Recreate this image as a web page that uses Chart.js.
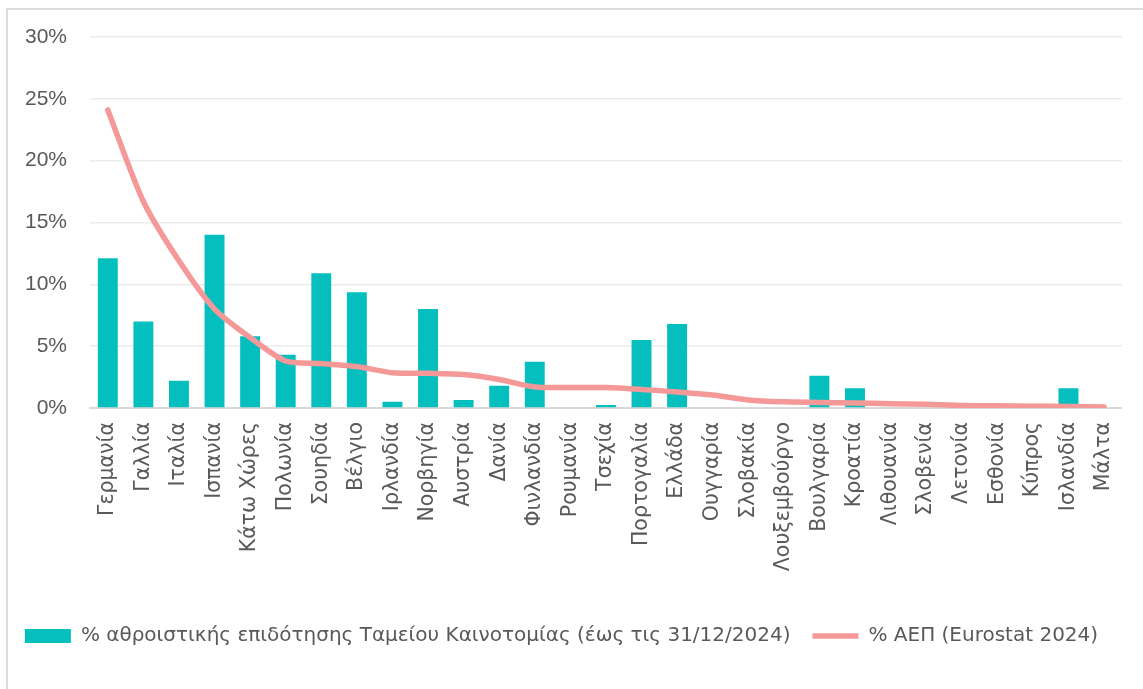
<!DOCTYPE html>
<html>
<head>
<meta charset="utf-8">
<script src="https://cdn.jsdelivr.net/npm/chart.js@4.4.1/dist/chart.umd.min.js"></script>
<style>
  html, body { margin: 0; padding: 0; background: #fff; overflow: hidden; }
  #frame { position: absolute; left: 6px; top: 8px; width: 1160px; height: 700px; border: 2px solid #dcdcdc; pointer-events: none; }
  #myChart { position: absolute; left: 0; top: 0; }
</style>
</head>
<body>
<canvas id="myChart" width="1143" height="689"></canvas>
<div id="frame"></div>
<script>
var countries = ['Γερμανία', 'Γαλλία', 'Ιταλία', 'Ισπανία', 'Κάτω Χώρες', 'Πολωνία', 'Σουηδία', 'Βέλγιο',
    'Ιρλανδία', 'Νορβηγία', 'Αυστρία', 'Δανία', 'Φινλανδία', 'Ρουμανία', 'Τσεχία', 'Πορτογαλία', 'Ελλάδα',
    'Ουγγαρία', 'Σλοβακία', 'Λουξεμβούργο', 'Βουλγαρία', 'Κροατία', 'Λιθουανία', 'Σλοβενία', 'Λετονία',
    'Εσθονία', 'Κύπρος', 'Ισλανδία', 'Μάλτα'];

// % of cumulative funding (bars)
var fundingShare = [12.1, 7.0, 2.2, 14.0, 5.8, 4.3, 10.9, 9.35, 0.5, 8.0, 0.65, 1.8, 3.75, 0, 0.25, 5.5, 6.8,
    0, 0, 0, 2.6, 1.6, 0, 0, 0, 0, 0, 1.6, 0];

// % GDP (line)
var gdpShare = [24.1, 16.7, 11.9, 8.0, 5.7, 3.8, 3.6, 3.35, 2.85, 2.8, 2.7, 2.3, 1.7, 1.65, 1.65, 1.5, 1.3,
    1.05, 0.65, 0.5, 0.45, 0.4, 0.35, 0.3, 0.2, 0.18, 0.15, 0.12, 0.08];

var yTicks = [0, 5, 10, 15, 20, 25, 30];

var textColor = '#595959';
var fontFamily = '"DejaVu Sans", "Liberation Sans", sans-serif';

var ctx = document.getElementById('myChart').getContext('2d');
var chart = new Chart(ctx, {
    type: 'bar',
    data: {
        labels: countries,
        datasets: [{
            label: '% αθροιστικής επιδότησης Ταμείου Καινοτομίας (έως τις 31/12/2024)',
            data: fundingShare,
            backgroundColor: '#05BFBF',
            borderWidth: 0,
            categoryPercentage: 0.56,
            barPercentage: 1,
            pointStyle: 'rect',
            order: 1
        }, {
            type: 'line',
            label: '% ΑΕΠ (Eurostat 2024)',
            data: gdpShare,
            borderColor: '#F59898',
            backgroundColor: '#F59898',
            borderWidth: 5.5,
            borderCapStyle: 'round',
            borderJoinStyle: 'round',
            pointRadius: 0,
            pointStyle: 'line',
            tension: 0.25,
            order: 0
        }]
    },
    options: {
        responsive: false,
        animation: false,
        layout: { padding: { left: 0, right: 20, top: 37, bottom: 33 } },
        plugins: {
            tooltip: { enabled: false },
            legend: {
                position: 'bottom',
                labels: {
                    usePointStyle: true,
                    pointStyleWidth: 46,
                    boxHeight: 14,
                    padding: 22,
                    color: textColor,
                    font: { family: fontFamily, size: 20 },
                    sort: function(a, b) { return a.datasetIndex - b.datasetIndex; }
                }
            }
        },
        scales: {
            x: {
                grid: { display: false, drawTicks: false },
                border: { color: '#d9d9d9', width: 2 },
                afterFit: function(axis) { axis.height = 196; },
                ticks: {
                    color: textColor,
                    autoSkip: false,
                    maxRotation: 90,
                    minRotation: 90,
                    padding: 14,
                    font: { family: fontFamily, size: 20.5 }
                }
            },
            y: {
                min: 0,
                max: 30,
                afterFit: function(axis) { axis.width = 90; },
                afterBuildTicks: function(axis) {
                    axis.ticks = yTicks.map(function(v) { return { value: v }; });
                },
                grid: { color: '#ececec', lineWidth: 1.5, drawTicks: false },
                border: { display: false },
                ticks: {
                    color: textColor,
                    padding: 23,
                    callback: function(v) { return v + '%'; },
                    font: { family: '"Liberation Sans", Arial, sans-serif', size: 21 }
                }
            }
        }
    }
});
</script>
</body>
</html>
